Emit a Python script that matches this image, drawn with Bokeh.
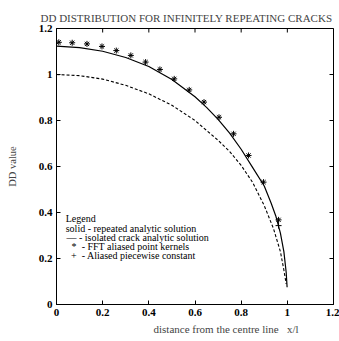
from bokeh.plotting import figure
from bokeh.models import FixedTicker, Label, Range1d, Title
from bokeh.embed import file_html
from bokeh.resources import INLINE

# ---- data ----
solid_x = [0.0, 0.1, 0.2, 0.3, 0.4, 0.5, 0.6, 0.65, 0.7, 0.75, 0.8, 0.85, 0.9, 0.93, 0.95, 0.97, 0.985, 0.995, 0.999]
solid_y = [1.123, 1.117, 1.101, 1.074, 1.035, 0.978, 0.903, 0.857, 0.805, 0.745, 0.675, 0.595, 0.515, 0.44, 0.385, 0.31, 0.23, 0.14, 0.075]

dash_x = [0.0, 0.1, 0.2, 0.3, 0.4, 0.5, 0.6, 0.7, 0.75, 0.8, 0.85, 0.9, 0.94, 0.97, 0.985, 0.995]
dash_y = [1.0, 0.995, 0.98, 0.953, 0.916, 0.866, 0.80, 0.714, 0.665, 0.605, 0.53, 0.43, 0.33, 0.23, 0.15, 0.09]

star_x = [0.010, 0.068, 0.132, 0.197, 0.259, 0.322, 0.386, 0.448, 0.510, 0.575, 0.639, 0.704, 0.767, 0.832, 0.897, 0.962]
star_y = [1.140, 1.138, 1.133, 1.122, 1.104, 1.083, 1.054, 1.022, 0.981, 0.933, 0.880, 0.814, 0.742, 0.648, 0.532, 0.368]

plus_x = [0.962]
plus_y = [0.343]

ticks = [0, 0.2, 0.4, 0.6, 0.8, 1.0, 1.2]
tick_labels = ["0", "0.2", "0.4", "0.6", "0.8", "1", "1.2"]

title_text = "DD DISTRIBUTION FOR INFINITELY REPEATING CRACKS"
xlabel_text = "distance from the centre line\u00a0\u00a0 x/l"
ylabel_text = "DD value"
legend_header = ["Legend", "solid - repeated analytic solution"]
legend_symbols = ["\u2014", "*", "+"]
legend_texts = ["- isolated crack analytic solution",
                "- FFT aliased point kernels",
                "- Aliased piecewise constant"]

FONT = "Liberation Serif"
XMAX = 1.2
YMAX = 1.2

p = figure(width=339, height=341, output_backend="svg", toolbar_location=None,
           x_range=Range1d(0, XMAX), y_range=Range1d(0, YMAX),
           min_border_left=56, min_border_right=6, min_border_top=28, min_border_bottom=37)
p.background_fill_color = "white"
p.border_fill_color = "white"
p.outline_line_color = "black"
p.outline_line_width = 1
p.grid.visible = False

p.title.text = title_text
p.title.text_font = FONT
p.title.text_font_size = "11px"
p.title.text_font_style = "normal"
p.title.align = "left"
p.title.offset = -16
p.title.standoff = 9

overrides = {t: l for t, l in zip(ticks, tick_labels)}
for ax in [p.xaxis[0], p.yaxis[0]]:
    ax.ticker = FixedTicker(ticks=ticks)
    ax.major_label_overrides = overrides
    ax.major_tick_in = 4
    ax.major_tick_out = 0
    ax.minor_tick_line_color = None
    ax.axis_line_color = "black"
    ax.major_tick_line_color = "black"
    ax.major_label_text_font = FONT
    ax.major_label_text_font_size = "11px"
    ax.major_label_text_font_style = "bold"
    ax.major_label_text_color = "black"
    ax.major_label_standoff = 4

p.yaxis[0].axis_label = ylabel_text
p.yaxis[0].axis_label_text_font = FONT
p.yaxis[0].axis_label_text_font_size = "10.5px"
p.yaxis[0].axis_label_text_font_style = "normal"
p.yaxis[0].axis_label_standoff = 18

xt = Title(text=xlabel_text, text_font=FONT, text_font_size="11px",
           text_font_style="normal", align="left", offset=97, standoff=4)
p.add_layout(xt, "below")

# inward ticks on the right and top edges (half of each dash is clipped by the frame)
p.scatter([XMAX] * len(ticks), ticks, marker="dash", size=8, line_color="black", line_width=1)
p.scatter(ticks, [YMAX] * len(ticks), marker="dash", angle=1.5708, size=8, line_color="black", line_width=1)

p.line(solid_x, solid_y, line_color="black", line_width=1.2)
p.line(dash_x, dash_y, line_color="black", line_width=1.1, line_dash="3 2")
p.scatter(star_x, star_y, marker="asterisk", size=6, line_color="black", line_width=1)
p.scatter(plus_x, plus_y, marker="cross", size=6, line_color="black", line_width=1)

# legend block
lab = dict(text_font=FONT, text_font_size="10px", text_color="black", text_baseline="alphabetic")
header_y = [0.374, 0.330]
for t, ly in zip(legend_header, header_y):
    p.add_layout(Label(x=0.04, y=ly, text=t, **lab))
row_y = [0.291, 0.252, 0.213]
sym_x = [0.043, 0.065, 0.063]
txt_x = [0.097, 0.109, 0.109]
for s, t, sx, tx, ly in zip(legend_symbols, legend_texts, sym_x, txt_x, row_y):
    p.add_layout(Label(x=sx, y=ly, text=s, **lab))
    p.add_layout(Label(x=tx, y=ly, text=t, **lab))

open("out.html", "w").write(file_html(p, INLINE))
